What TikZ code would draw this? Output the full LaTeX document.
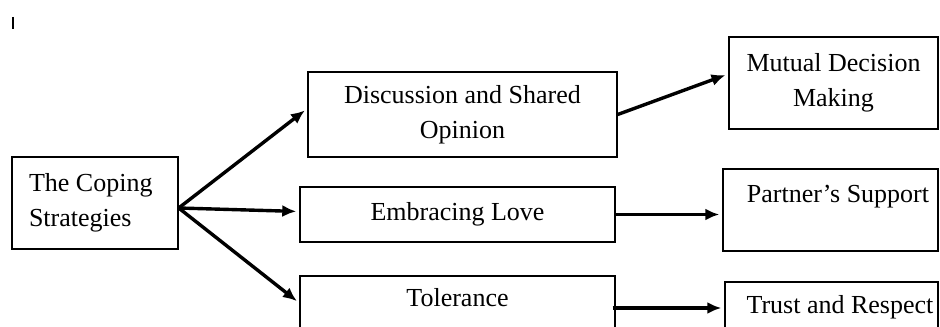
\documentclass[tikz,border=0pt]{standalone}
\usepackage{fontspec}
\setmainfont{Liberation Serif}
\usetikzlibrary{arrows.meta}
\begin{document}
\begin{tikzpicture}[x=0.5pt,y=-0.5pt,
    box/.style={draw, line width=0.7pt, inner sep=0pt},
    txt/.style={font=\fontsize{13}{17.5}\selectfont, align=center, inner sep=0pt},
    link/.style={-{Latex[length=7pt,width=6pt]}, line width=1.7pt, shorten >=1.5pt}]
                \useasboundingbox (0,0) rectangle (940,326);
                \clip (0,0) rectangle (940,326);
                \draw[line width=1pt] (12.5,17) -- (12.5,29);
                \node[box, txt, align=flush left, text width=66pt, minimum width=83pt, minimum height=46pt] (coping) at (95,203) {The Coping\\Strategies};
                \node[box, txt, minimum width=154.5pt, minimum height=42.5pt] (disc) at (462.5,114.5) {Discussion and Shared\\Opinion};
                \node[box, txt, minimum width=157.5pt, minimum height=27.5pt] (emb) at (457.5,214.5) {Embracing Love};
                \node[box, minimum width=157.5pt, minimum height=27pt] (tol) at (457.5,303) {};
                    \node[txt] (toltext) at (457.5,298) {Tolerance};
                \node[box, txt, minimum width=104.5pt, minimum height=46pt] (mutual) at (833.5,83) {Mutual Decision\\Making};
                \node[box, minimum width=107.5pt, minimum height=41pt] (partner) at (830.5,210) {};
                    \node[txt] (partnertext) at (838,197) {Partner’s Support};
                \node[box, minimum width=106.5pt, minimum height=26pt] (trust) at (831.5,308) {};
                    \node[txt] (trusttext) at (840,307) {Trust and Respect};
                \coordinate (fork) at ([yshift=-2.5pt]coping.east);
                \draw[link] (fork) -- ([yshift=3pt]disc.west);
                \draw[link] (fork) -- ([yshift=1.5pt]emb.west);
                \draw[link] (fork) -- (tol.west);
                \draw[link] (disc.east) -- ([yshift=4.5pt]mutual.west);
                \draw[link] (emb.east) -- (emb.east -| partner.west);
                \draw[link] ([xshift=-1.5pt]tol.east |- trust.west) -- (trust.west);
            \end{tikzpicture}
\end{document}
